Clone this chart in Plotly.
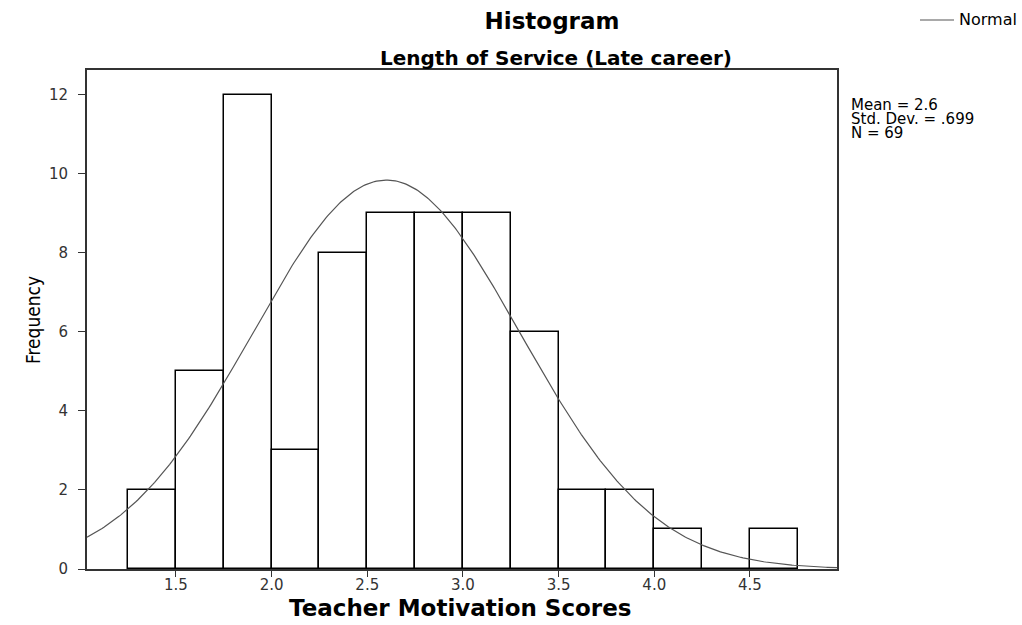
import numpy as np
import plotly.graph_objects as go

# Data
bin_left_edges = [1.25, 1.50, 1.75, 2.00, 2.25, 2.50, 2.75, 3.00, 3.25, 3.50, 3.75, 4.00, 4.25, 4.50]
frequencies    = [2, 5, 12, 3, 8, 9, 9, 9, 6, 2, 2, 1, 0, 1]
bin_width = 0.25
mean_val = 2.6
std_val = 0.699
n_val = 69
x_ticks = [1.5, 2.0, 2.5, 3.0, 3.5, 4.0, 4.5]
x_tick_labels = ["1.5", "2.0", "2.5", "3.0", "3.5", "4.0", "4.5"]
y_ticks = [0, 2, 4, 6, 8, 10, 12]

x_range = [1.035, 4.955]
y_range = [0, 12.63]

centers = [e + bin_width / 2 for e in bin_left_edges]

# Fitted normal curve (scaled to counts), as SPSS draws it
xc = np.linspace(x_range[0], x_range[1], 400)
yc = n_val * bin_width * np.exp(-0.5 * ((xc - mean_val) / std_val) ** 2) / (std_val * np.sqrt(2 * np.pi))

FONT = "DejaVu Sans, Verdana, sans-serif"
FONT_C = "DejaVu Sans Condensed, DejaVu Sans, sans-serif"

L, R, T, B = 87, 837, 70, 569
W_PLOT, H_PLOT = R - L, B - T


def px(xpix):
    return (xpix - L) / W_PLOT


def py(ypix):
    return (B - ypix) / H_PLOT


fig = go.Figure()
fig.add_trace(go.Bar(
    x=centers, y=frequencies, width=bin_width,
    marker=dict(color="white", line=dict(color="black", width=1.5)),
    showlegend=False, hoverinfo="x+y",
))
fig.add_trace(go.Scatter(
    x=xc, y=yc, mode="lines", name="Normal",
    line=dict(color="#555555", width=1.2), showlegend=False,
))

fig.update_layout(
    width=1022, height=625,
    margin=dict(l=L, r=1022 - R, t=T, b=625 - B, autoexpand=False),
    paper_bgcolor="white", plot_bgcolor="white",
    bargap=0,
    font=dict(family=FONT, color="black", size=13),
    title=dict(text="<b>Histogram</b>", x=552 / 1022, xanchor="center",
               y=1 - 21 / 625, yanchor="middle",
               font=dict(family=FONT, size=23, color="black")),
    showlegend=False,
)

fig.update_xaxes(
    range=x_range, tickmode="array", tickvals=x_ticks, ticktext=x_tick_labels,
    showgrid=False, zeroline=False, showline=True, linecolor="#333333", linewidth=2,
    mirror=True, ticks="outside", ticklen=6, tickcolor="#333333", automargin=False,
    ticklabelstandoff=-5,
    tickfont=dict(family=FONT, size=15, color="#333333"),
)
fig.update_yaxes(
    range=y_range, tickmode="array", tickvals=y_ticks,
    showgrid=False, zeroline=False, showline=True, linecolor="#333333", linewidth=2,
    mirror=True, ticks="outside", ticklen=7, tickcolor="#333333", automargin=False,
    ticklabelstandoff=7,
    tickfont=dict(family=FONT, size=15, color="#333333"),
)

# Subtitle
fig.add_annotation(text="<b>Length of Service (Late career)</b>", xref="paper", yref="paper",
                   x=px(556), y=py(58), xanchor="center", yanchor="middle",
                   showarrow=False, font=dict(family=FONT, size=20, color="black"))

# Axis titles
fig.add_annotation(text="<b>Teacher Motivation Scores</b>", xref="paper", yref="paper",
                   x=px(460), y=py(608), xanchor="center", yanchor="middle",
                   showarrow=False, font=dict(family=FONT, size=23, color="black"))
fig.add_annotation(text="Frequency", xref="paper", yref="paper", textangle=-90,
                   x=px(33), y=py(320), xanchor="center", yanchor="middle",
                   showarrow=False, font=dict(family=FONT_C, size=19, color="black"))

# Legend: line sample + label
fig.add_shape(type="line", xref="paper", yref="paper",
              x0=px(920), x1=px(954), y0=py(20), y1=py(20),
              line=dict(color="#555555", width=1.2))
fig.add_annotation(text="Normal", xref="paper", yref="paper",
                   x=px(957), y=py(20), xanchor="left", yanchor="middle",
                   showarrow=False, font=dict(family=FONT, size=16, color="black"))

# Stats text
stats = ["Mean = 2.6", "Std. Dev. = .699", "N = 69"]
for i, s in enumerate(stats):
    fig.add_annotation(text=s, xref="paper", yref="paper",
                       x=px(849), y=py(105 + 14 * i),
                       xanchor="left", yanchor="middle", showarrow=False,
                       font=dict(family=FONT, size=15, color="black"))

fig.write_html("out.html", config={"displayModeBar": False},
               post_script="document.body.style.margin='0';")
